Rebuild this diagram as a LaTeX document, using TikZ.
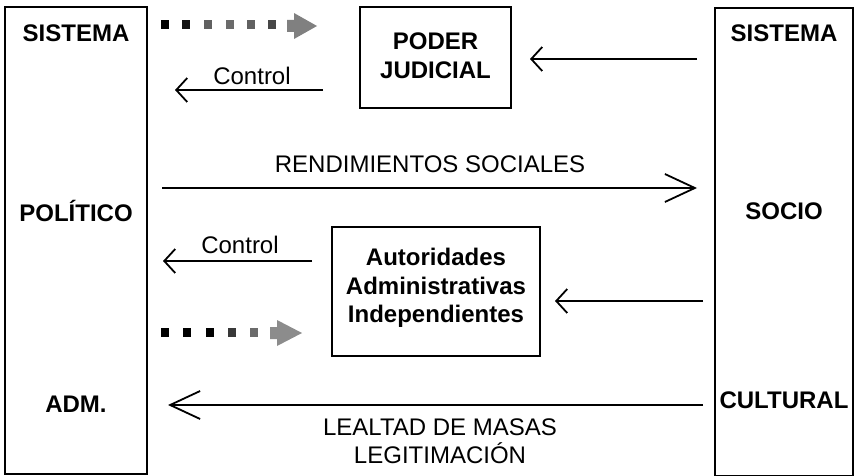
\documentclass[tikz,border=0pt]{standalone}
\usepackage{fontspec}
\setmainfont{Liberation Sans}
\usetikzlibrary{arrows.meta}
\begin{document}
\begin{tikzpicture}[x=1pt,y=-1pt,
  box/.style={draw, line width=1.8pt, inner sep=0pt},
  lbl/.style={font=\fontsize{24}{28}\selectfont\bfseries, anchor=base, inner sep=0pt},
  txt/.style={font=\fontsize{24}{28}\selectfont, anchor=base, inner sep=0pt},
  arr/.style={line width=1.8pt, -{Straight Barb[length=11pt,width=24pt,line width=1.8pt]}},
  longarr/.style={line width=1.8pt, -{Straight Barb[length=30pt,width=28pt,line width=1.8pt]}},
  sq/.style={minimum width=8pt, minimum height=9pt, inner sep=0pt, fill=#1}]
\useasboundingbox (0,0) rectangle (856,476);
% main boxes
\node[box, minimum width=142pt, minimum height=467pt] (pol) at (76,240.5) {};
\node[box, minimum width=138pt, minimum height=468pt] (soc) at (784,242) {};
\node[box, minimum width=151pt, minimum height=101pt] (pj) at (435.5,57.5) {};
\node[box, minimum width=208pt, minimum height=129pt] (aai) at (436,291.5) {};
% side labels
\node[lbl] (l1) at (76,42) {SISTEMA};
\node[lbl] (l2) at (76,221) {POLÍTICO};
\node[lbl] (l3) at (76,412) {ADM.};
\node[lbl] (r1) at (784,42) {SISTEMA};
\node[lbl] (r2) at (784,219) {SOCIO};
\node[lbl] (r3) at (784,408) {CULTURAL};
% inner box labels
\node[lbl] (pj1) at (435.5,50) {PODER};
\node[lbl] (pj2) at (435.5,79) {JUDICIAL};
\node[lbl] (a1) at (436,265) {Autoridades};
\node[lbl] (a2) at (436,294) {Administrativas};
\node[lbl] (a3) at (436,322) {Independientes};
% top dotted arrow
\node[sq=black] (s1) at (165,25) {};
\node[sq=black!92] (s2) at (186,25) {};
\node[sq=black!62] (s3) at (208,25) {};
\node[sq=black!58] (s4) at (230,25) {};
\node[sq=black!62] (s5) at (251,25) {};
\node[sq=black!72] (s6) at (272,25) {};
\fill[black!50] (287,20) -- (294,20) -- (294,13) -- (317,26) -- (294,39) -- (294,32) -- (287,32) -- cycle;
% lower dotted arrow
\node[sq=black] (u1) at (165,332) {};
\node[sq=black] (u2) at (187,332) {};
\node[sq=black] (u3) at (210,332) {};
\node[sq=black!78] (u4) at (232,332) {};
\node[sq=black!58] (u5) at (254,332) {};
\fill[black!45] (270,327) -- (277,327) -- (277,320) -- (302,333) -- (277,346) -- (277,339) -- (270,339) -- cycle;
% connectors
\coordinate (c1s) at (323,90);  \coordinate (c1e) at (175,90);
\draw[arr] (c1s) -- (c1e);
\node[txt] (c1t) at (252,85) {Control};
\coordinate (p1s) at (697,59);  \coordinate (p1e) at (530,59);
\draw[arr] (p1s) -- (p1e);
\coordinate (rs) at (162,188);  \coordinate (re) at (697,188);
\draw[longarr] (rs) -- (re);
\node[txt] (rt) at (430,172) {RENDIMIENTOS SOCIALES};
\coordinate (c2s) at (312,261); \coordinate (c2e) at (163,261);
\draw[arr] (c2s) -- (c2e);
\node[txt] (c2t) at (240,253) {Control};
\coordinate (p2s) at (703,301); \coordinate (p2e) at (555,301);
\draw[arr] (p2s) -- (p2e);
\coordinate (ls) at (703,405);  \coordinate (le) at (168,405);
\draw[longarr] (ls) -- (le);
\node[txt] (lt1) at (440,435) {LEALTAD DE MASAS};
\node[txt] (lt2) at (440,463) {LEGITIMACIÓN};
\end{tikzpicture}
\end{document}
